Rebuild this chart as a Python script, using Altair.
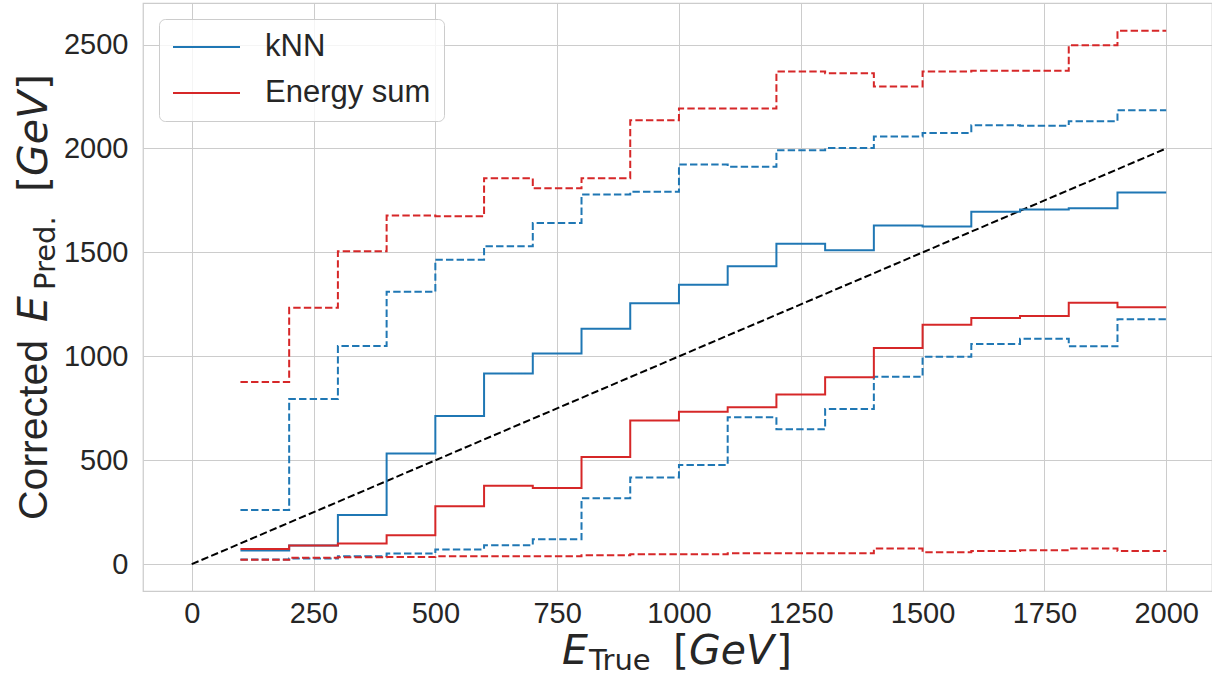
import altair as alt
import pandas as pd

# bin left edges (GeV); each step spans [edge, edge+100]
bin_edges = [100, 200, 300, 400, 500, 600, 700, 800, 900, 1000,
             1100, 1200, 1300, 1400, 1500, 1600, 1700, 1800, 1900, 2000]

knn_mean = [66, 90, 237, 532, 713, 917, 1014, 1133, 1255, 1345,
            1433, 1542, 1511, 1629, 1625, 1696, 1707, 1712, 1788]
knn_upper = [261, 795, 1050, 1311, 1465, 1530, 1641, 1779, 1792, 1923,
             1912, 1992, 2002, 2058, 2075, 2112, 2109, 2131, 2184]
knn_lower = [22, 27, 38, 51, 71, 91, 120, 317, 417, 477,
             707, 649, 747, 902, 998, 1059, 1085, 1048, 1178]

es_mean = [73, 90, 99, 139, 279, 377, 367, 516, 691, 734,
           755, 816, 899, 1040, 1152, 1184, 1194, 1258, 1236]
es_upper = [876, 1234, 1506, 1678, 1674, 1857, 1809, 1857, 2136, 2192,
            2192, 2370, 2362, 2298, 2370, 2374, 2374, 2497, 2567]
es_lower = [21, 31, 33, 35, 38, 38, 38, 43, 48, 48,
            53, 53, 53, 75, 58, 64, 67, 75, 64]

diag_x = [0, 2000]
diag_y = [0, 2000]

methods = ["kNN", "Energy sum"]
colors = ["#1f77b4", "#d62728"]

series = [
    ("kNN", "mean", knn_mean),
    ("kNN", "upper", knn_upper),
    ("kNN", "lower", knn_lower),
    ("Energy sum", "mean", es_mean),
    ("Energy sum", "upper", es_upper),
    ("Energy sum", "lower", es_lower),
]

rows = []
for order, (method, kind, vals) in enumerate(series):
    steps = list(vals) + [vals[-1]]
    for x, y in zip(bin_edges, steps):
        rows.append({"x": x, "y": y, "method": method, "kind": kind,
                     "sid": f"{method}-{kind}", "o": order})
df = pd.DataFrame(rows)
diag = pd.DataFrame({"x": diag_x, "y": diag_y})

TXT = "#262626"
GRID = "#cccccc"

xscale = alt.Scale(domain=[-100, 2094], nice=False, zero=False)
yscale = alt.Scale(domain=[-129, 2700], nice=False, zero=False)

xaxis = alt.Axis(values=[0, 250, 500, 750, 1000, 1250, 1500, 1750, 2000],
                 format="d", title=None, grid=True, gridColor=GRID, gridWidth=1,
                 domain=False, ticks=False, labelPadding=8,
                 labelFontSize=29, labelFont="Liberation Sans",
                 labelColor=TXT, labelFlush=False)
yaxis = alt.Axis(values=[0, 500, 1000, 1500, 2000, 2500],
                 format="d", title=None, grid=True, gridColor=GRID, gridWidth=1,
                 domain=False, ticks=False, labelPadding=15,
                 labelFontSize=29, labelFont="Liberation Sans",
                 labelColor=TXT)

lines = alt.Chart(df).mark_line(interpolate="step-after", strokeWidth=2).encode(
    x=alt.X("x:Q", scale=xscale, axis=xaxis),
    y=alt.Y("y:Q", scale=yscale, axis=yaxis),
    color=alt.Color("method:N",
                    scale=alt.Scale(domain=methods, range=colors),
                    legend=alt.Legend(orient="none", legendX=16, legendY=16,
                                      title=None, symbolType="stroke",
                                      symbolSize=4489, symbolStrokeWidth=2,
                                      clipHeight=30,
                                      labelFontSize=31, labelFont="Liberation Sans",
                                      labelColor=TXT, labelOffset=24,
                                      labelLimit=500,
                                      fillColor="rgba(255,255,255,0.8)",
                                      strokeColor=GRID, cornerRadius=6,
                                      padding=13, rowPadding=15)),
    strokeDash=alt.StrokeDash("kind:N",
                              scale=alt.Scale(domain=["mean", "upper", "lower"],
                                              range=[[1, 0], [7.4, 3.2], [7.4, 3.2]]),
                              legend=None),
    detail="sid:N",
    order="o:Q",
)

diag_line = alt.Chart(diag).mark_line(color="black", strokeWidth=2,
                                      strokeDash=[7.4, 3.2]).encode(
    x=alt.X("x:Q", scale=xscale),
    y=alt.Y("y:Q", scale=yscale),
)

# plot area origin is at canvas (143, 3)
OX, OY = 143, 3

def txt(text, x, y, size, font, italic=False, angle=0):
    kw = dict(text=text, fontSize=size, font=font, color=TXT,
              align="left", baseline="alphabetic")
    if italic:
        kw["fontStyle"] = "italic"
    if angle:
        kw["angle"] = angle
    return alt.Chart(pd.DataFrame({"a": [0]})).mark_text(**kw).encode(
        x=alt.value(x - OX), y=alt.value(y - OY))

F = 41
SUB = 29
titles = [
    # x title
    txt("E", 562, 664, F, "DejaVu Sans", italic=True),
    txt("True", 589, 670, SUB, "DejaVu Sans"),
    txt("[", 673, 664, F, "DejaVu Sans"),
    txt("GeV", 689, 664, F, "DejaVu Sans", italic=True),
    txt("]", 776, 664, F, "DejaVu Sans"),
    # y title (rotated)
    txt("Corrected", 47, 520, 41, "Liberation Sans", angle=270),
    txt("E", 47, 322, F, "DejaVu Sans", italic=True, angle=270),
    txt("Pred.", 55, 290, SUB, "DejaVu Sans", angle=270),
    txt("[", 47, 192, F, "DejaVu Sans", angle=270),
    txt("GeV", 47, 176, F, "DejaVu Sans", italic=True, angle=270),
    txt("]", 47, 90, F, "DejaVu Sans", angle=270),
]

chart = alt.layer(diag_line, lines, *titles).properties(
    width=1069, height=588,
    padding={"left": OX, "top": OY, "right": 0, "bottom": 87},
    autosize=alt.AutoSizeParams(type="none"),
    background="white",
).configure_view(stroke=GRID, strokeWidth=1.25)

chart.save("out.html", embed_options={"renderer": "svg", "actions": False})
